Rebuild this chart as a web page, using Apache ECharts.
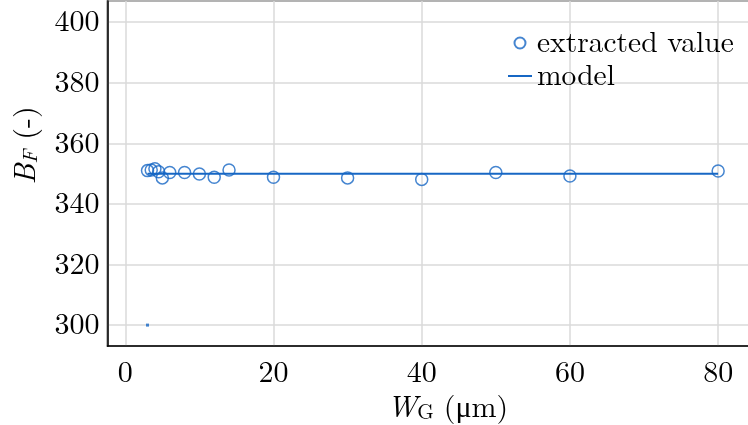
<!DOCTYPE html>
<html><head><meta charset="utf-8">
<script src="https://cdn.jsdelivr.net/npm/echarts@6/dist/echarts.min.js"></script>
<style>html,body{margin:0;padding:0;background:#fff}#c{width:748px;height:425px}</style>
</head><body><div id="c"></div>
<script>
const wgExtracted = [3, 3.5, 4, 4.5, 5, 6, 8, 10, 12, 14, 20, 30, 40, 50, 60, 80];
const bfExtracted = [351.0, 351.2, 351.6, 350.6, 348.6, 350.4, 350.4, 349.9, 348.8, 351.2, 348.8, 348.6, 348.1, 350.4, 349.2, 350.9];
const wgModel = [3, 80];
const bfModel = [350, 350];
const strayPoint = [[3, 300]];

const blue = '#1767c4';
const serif = '"Latin Modern Roman","CMU Serif","Liberation Serif","DejaVu Serif",serif';
const ink = '#000';

const chart = echarts.init(document.getElementById('c'), null, {renderer: 'canvas'});
chart.setOption({
  animation: false,
  textStyle: {fontFamily: serif},
  grid: {left: 107.5, top: 1, right: -2, bottom: 79, show: true, containLabel: false, outerBoundsMode: 'none',
         borderColor: '#000', borderWidth: 1.5, backgroundColor: 'transparent'},
  legend: {
    orient: 'vertical', left: 507, top: 28, padding: 0, itemWidth: 24, itemHeight: 11, itemGap: 3,
    textStyle: {fontFamily: serif, fontSize: 29.5, lineHeight: 30, color: ink},
    data: [
      {name: 'extracted value', icon: 'circle'},
      {name: 'model', itemStyle: {color: 'rgba(0,0,0,0)', borderWidth: 0, opacity: 0}}
    ]
  },
  xAxis: {
    type: 'value', min: -2.4, max: 84.3, splitNumber: 5,
    axisLine: {show: true, onZero: false, lineStyle: {color: '#000', width: 1.5}},
    axisTick: {show: false},
    axisLabel: {fontFamily: serif, fontSize: 30, color: ink, margin: 12, showMinLabel: false, showMaxLabel: false},
    splitLine: {show: true, lineStyle: {color: '#dadada', width: 1.5}},
    name: '{i|W}{s|G} (μm)', nameLocation: 'middle', nameGap: 44,
    nameTextStyle: {fontFamily: serif, fontSize: 30, color: ink, padding: [0, 0, 0, 38],
      rich: {i: {fontFamily: serif, fontStyle: 'italic', fontSize: 30, color: ink},
             s: {fontFamily: serif, fontSize: 21, color: ink, padding: [10, 0, 0, 0]}}}
  },
  yAxis: {
    type: 'value', min: 293.1, max: 407, splitNumber: 5,
    axisLine: {show: true, onZero: false, lineStyle: {color: '#000', width: 1.5}},
    axisTick: {show: false},
    axisLabel: {fontFamily: serif, fontSize: 30, color: ink, margin: 8, showMinLabel: false, showMaxLabel: false},
    splitLine: {show: true, lineStyle: {color: '#dadada', width: 1.5}},
    name: '{i|B}{s|F} (-)', nameLocation: 'middle', nameGap: 66, nameRotate: 90,
    nameTextStyle: {fontFamily: serif, fontSize: 30, color: ink, padding: [0, 0, 0, 56],
      rich: {i: {fontFamily: serif, fontStyle: 'italic', fontSize: 30, color: ink},
             s: {fontFamily: serif, fontStyle: 'italic', fontSize: 21, color: ink, padding: [10, 0, 0, 0]}}}
  },
  series: [
    {name: 'model', type: 'line', data: wgModel.map((x, i) => [x, bfModel[i]]),
     symbol: 'none', lineStyle: {color: blue, width: 2}, itemStyle: {color: blue}, z: 2},
    {name: 'extracted value', type: 'scatter', data: wgExtracted.map((x, i) => [x, bfExtracted[i]]),
     symbol: 'circle', symbolSize: 12, itemStyle: {color: 'rgba(0,0,0,0)', borderColor: blue, borderWidth: 1.5}, z: 3},
    {name: 'stray', type: 'scatter', data: strayPoint, symbol: 'rect', symbolSize: 3, itemStyle: {color: blue}, z: 3}
  ]
});
</script></body></html>
